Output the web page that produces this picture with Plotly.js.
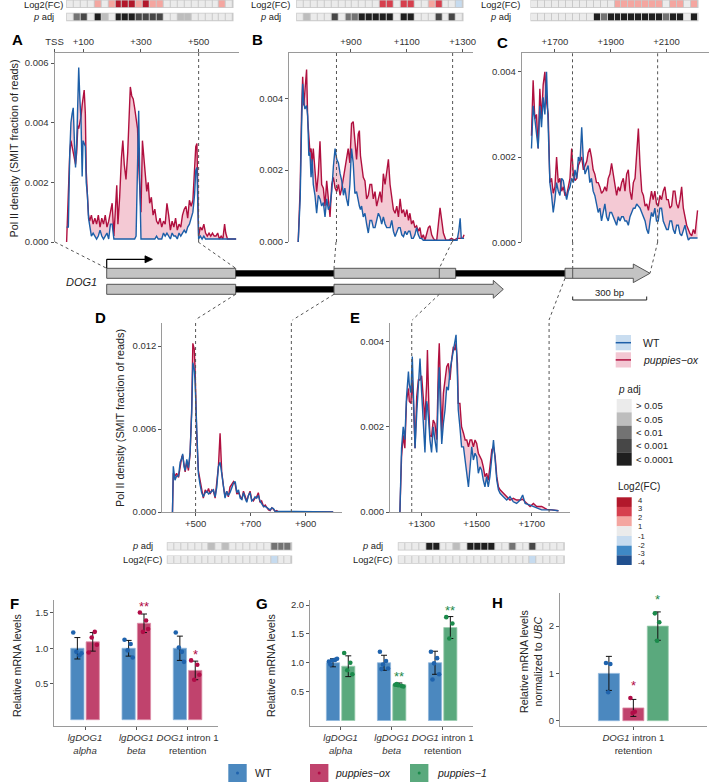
<!DOCTYPE html>
<html><head><meta charset="utf-8">
<script src="https://cdn.plot.ly/plotly-3.0.1.min.js"></script>
<style>html,body{margin:0;padding:0;background:#fff}#chart{width:709px;height:782px}</style>
</head><body><div id="chart"></div>
<script>
// ---------------- DATA ----------------
// Pol II density (SMIT fraction of reads), values in units of 1e-3
const A_BP=[42,48,53,57,61,65,69,73,77,81,84,88,92,96,99,103,107,110,114,118,122,128,134,140,146,152,158,164,170,176,182,188,194,200,206,212,216,220,226,232,237,242,248,254,258,263,268,273,278,283,288,292,296,300,305,310,315,320,325,330,336,342,348,354,360,366,372,378,384,390,396,402,408,414,420,426,432,438,444,450,456,462,468,474,480,486,490,494,497,500,506,512,518,524,530,536,542,548,554,560,566,572,578,584,590,594,600,610,620,630];
const A_OX=[0,1.8,3.0,3.4,3.2,3.1,2.9,2.6,3.0,3.9,3.8,4.0,4.2,4.6,4.9,5.1,4.3,2.4,1.6,0.9,0.7,0.9,0.6,0.8,0.6,0.9,0.5,0.8,0.6,0.9,0.5,0.7,1.0,1.3,0.2,1.5,1.9,0.6,1.5,2.8,3.4,2.6,2.1,3.0,4.3,5.2,4.9,4.8,4.5,4.2,3.8,2.6,1.6,1.0,3.4,2.9,2.3,1.7,2.0,1.3,1.5,0.9,1.1,0.7,0.6,0.8,0.5,0.7,0.6,1.3,0.9,0.4,0.7,0.5,0.8,0.4,0.6,0.5,0.9,1.1,1.2,0.8,1.4,1.2,1.4,2.4,3.2,3.3,2.0,0.2,0.5,0.4,0.6,0.3,0.2,0.3,0.2,0.3,0.2,0.2,0.3,0.1,0.2,0.1,0.6,0.3,0.1,0.1,0.1,0.1];
const A_WT=[0.5,0.5,3.0,4.0,4.3,4.5,3.4,2.5,3.3,4.6,5.85,4.8,4.1,2.2,3.4,3.3,3.2,2.0,1.6,0.8,0.5,0.2,0.3,0.2,0.1,0.2,0.4,0.2,0.1,0.2,0.3,0.1,0.6,0.6,0.1,0.1,0.1,0.1,0.1,0.1,0.1,0.1,0.1,0.1,0.1,0.1,0.1,0.1,0.1,0.2,3.0,4.4,2.0,0.1,0.1,0.1,0.1,0.1,0.1,0.1,0.1,0.1,0.1,0.2,0.1,0.1,0.1,0.3,0.2,0.3,0.2,0.1,0.3,0.2,0.2,0.1,0.3,0.2,0.3,0.4,0.3,0.5,0.6,0.8,1.0,1.6,2.4,2.5,1.0,0.1,0.2,0.1,0.2,0.1,0.1,0.1,0.1,0.1,0.1,0.1,0.1,0.1,0.1,0.1,0.1,0.1,0.1,0.1,0.1,0.1];

const B_BP=[711,718,723,727,731,735,741,745,749,753,757,761,765,771,777,783,789,795,801,807,813,819,825,831,837,843,849,855,861,867,873,878,884,890,896,902,908,914,920,926,930,934,938,944,950,956,962,968,974,980,986,992,998,1004,1010,1016,1022,1028,1034,1040,1046,1052,1058,1064,1070,1076,1082,1088,1094,1100,1106,1111,1117,1123,1129,1135,1141,1147,1153,1159,1165,1171,1177,1183,1189,1195,1201,1207,1213,1219,1225,1231,1240,1250,1260,1270,1280,1286,1291,1295,1300,1305];
const B_OX=[0,1.5,3.6,4.6,3.8,4.2,4.8,3.4,2.9,2.5,2.6,2.2,2.6,2.1,1.4,1.9,2.8,1.6,1.5,1.0,1.7,1.2,0.7,1.6,1.8,1.5,1.4,1.6,1.3,1.5,1.8,2.1,2.4,2.6,2.2,3.3,3.35,2.8,2.3,3.0,3.1,2.4,2.1,1.8,1.7,1.2,1.3,1.6,1.6,1.2,1.4,1.0,1.2,1.4,1.1,1.9,1.6,1.9,2.3,1.6,1.2,0.9,0.8,1.0,0.7,1.2,0.8,0.9,0.7,0.9,0.6,0.8,0.5,0.6,0.4,0.45,0.3,0.4,0.1,0.2,0.05,0.25,0.4,0.45,0.2,0.1,0.05,0.05,0.5,0.95,0.6,0.25,0.05,0.05,0.1,0.05,0.1,0.1,0.1,0.1,0.1,0.2];
const B_WT=[0,1.2,3.2,4.4,3.9,3.7,3.8,3.5,2.4,2.5,1.8,2.3,1.6,1.3,0.8,1.3,1.2,1.0,1.1,0.7,1.2,0.9,1.0,1.4,2.1,2.6,2.3,2.2,1.9,1.7,1.3,1.5,1.2,1.0,1.6,2.6,2.2,1.35,1.4,1.1,1.0,0.9,1.0,0.7,0.8,0.5,0.25,0.6,0.6,0.4,0.4,0.6,0.8,0.7,0.5,0.7,0.5,0.4,0.4,0.4,0.6,0.3,0.15,0.3,0.4,0.4,0.2,0.15,0.3,0.2,0.3,0.3,0.1,0.1,0.2,0.4,0.2,0.1,0.1,0.05,0.05,0.05,0.05,0.05,0.05,0.05,0.05,0.05,0.05,0.05,0.05,0.05,0.05,0.05,0.05,0.05,0.05,0.3,0.66,0.1,0.1,0.1];

const C_BP=[1616,1622,1628,1634,1640,1646,1652,1658,1664,1670,1676,1682,1688,1694,1700,1706,1712,1718,1724,1730,1736,1742,1748,1754,1760,1766,1772,1778,1784,1790,1796,1802,1808,1814,1819,1825,1831,1837,1843,1849,1855,1861,1867,1873,1879,1885,1891,1897,1903,1909,1915,1921,1927,1933,1939,1945,1951,1957,1963,1969,1975,1981,1987,1993,1999,2005,2011,2017,2023,2029,2035,2041,2046,2052,2058,2064,2070,2076,2082,2088,2094,2100,2106,2112,2118,2124,2130,2136,2142,2148,2154,2160,2166,2172,2178,2184,2190,2196,2202,2207,2211];
const C_OX=[2.5,3.8,2.9,3.0,2.2,3.6,2.9,3.7,4.0,3.3,3.0,1.4,1.5,1.15,1.3,2.0,1.4,1.5,1.2,1.3,1.1,1.1,1.3,1.5,2.2,1.6,1.45,1.5,1.8,1.9,2.0,1.7,1.8,1.9,2.1,2.2,2.0,1.7,1.6,1.4,1.4,1.3,1.15,1.2,1.3,1.2,1.5,1.6,1.85,1.6,1.3,1.1,1.3,1.2,1.4,1.5,1.2,1.6,1.7,1.2,1.0,1.4,1.5,2.2,2.67,1.8,1.2,1.1,0.85,0.9,0.75,1.0,1.2,1.0,1.2,0.9,0.85,1.1,1.0,1.2,1.3,1.0,1.0,0.8,0.85,1.2,1.2,0.9,0.8,1.0,1.3,0.8,0.6,0.4,0.3,0.2,0.15,0.3,0.2,0.5,0.75];
const C_WT=[2.2,3.2,2.9,2.6,2.2,3.2,2.7,3.4,3.0,4.0,2.7,1.4,1.1,0.7,1.0,1.4,1.2,1.1,1.5,1.45,1.2,1.0,1.2,1.3,1.5,1.4,1.7,1.5,2.0,1.9,2.7,1.9,1.6,1.7,1.8,1.4,1.5,1.2,1.1,0.9,0.7,0.8,0.5,0.7,0.9,0.6,0.5,0.7,0.7,0.6,0.5,0.4,0.6,0.5,0.6,0.6,0.5,0.5,0.4,0.6,0.7,0.8,0.8,0.9,0.85,0.8,0.7,0.6,0.5,0.3,0.2,0.5,0.7,0.6,0.8,0.5,0.5,0.8,0.8,0.5,0.4,0.3,0.3,0.5,0.5,0.3,0.2,0.4,0.4,0.2,0.15,0.3,0.4,0.2,0.05,0.1,0.1,0.1,0.1,0.1,0.1];

const D_BP=[416,419,425,431,438,444,450,453,458,462,468,474,480,486,490,495,498,504,510,516,522,528,535,541,547,553,559,565,571,577,583,589,595,601,607,613,619,625,632,638,644,650,656,662,668,674,680,686,692,698,704,710,716,722,728,734,740,747,753,759,765,771,777,783,789,795,801,810,830,850,880,920,960,1000];
const D_OX=[0,2.8,2.6,2.8,2.5,3.4,4.0,4.1,3.2,2.9,3.6,3.0,4.2,7.6,12.2,11.8,10.5,5.6,3.0,2.4,1.6,1.0,1.6,1.4,1.7,1.3,1.6,1.5,1.0,2.0,3.3,5.7,2.9,1.9,1.1,1.5,1.1,1.8,2.0,2.2,2.0,1.3,1.4,1.2,0.9,1.5,1.2,0.8,1.2,1.5,0.9,0.8,1.0,1.1,1.4,0.7,0.8,0.4,0.5,0.3,0.15,0.1,0.3,0.2,0.05,0.1,0,0,0,0,0,0,0,0];
const D_WT=[0,3.3,2.3,2.6,2.6,3.6,3.9,4.2,3.3,3.0,3.8,3.2,4.3,7.2,10.8,10.3,9.5,5.7,2.8,2.0,1.4,1.1,1.4,1.5,1.3,1.4,1.5,1.6,1.1,1.8,3.3,3.6,2.8,1.8,1.0,1.5,1.2,1.4,1.8,2.1,2.2,1.4,1.6,1.0,0.9,1.4,1.0,0.7,1.2,1.4,0.8,0.9,1.1,1.0,1.2,0.8,0.6,0.4,0.4,0.3,0.2,0.15,0.3,0.25,0.05,0.05,0,0.05,0,0.02,0.03,0,0.02,0];

const E_BP=[1221,1227,1233,1239,1245,1252,1255,1261,1266,1270,1276,1282,1288,1294,1300,1306,1312,1318,1321,1327,1330,1336,1342,1348,1355,1361,1364,1367,1373,1379,1385,1391,1397,1403,1409,1415,1421,1425,1430,1433,1439,1445,1452,1458,1464,1470,1476,1482,1488,1494,1500,1506,1512,1518,1524,1530,1536,1542,1548,1555,1561,1567,1573,1579,1585,1597,1609,1621,1633,1645,1658,1667,1676,1694,1706,1718,1736,1755,1773,1797];
const E_OX=[0,1.3,1.8,1.5,2.6,2.9,2.6,2.55,3.1,2.6,1.5,2.7,3.1,3.1,3.2,2.6,2.16,3.0,3.8,2.3,1.8,1.77,2.16,2.08,1.7,3.5,3.96,3.26,1.85,2.79,3.18,3.41,3.49,3.1,3.57,3.88,3.8,3.96,3.49,2.55,2.55,2.0,1.85,1.69,1.69,1.53,1.69,1.69,1.53,1.69,1.61,1.38,1.3,1.22,1.06,0.83,0.91,0.75,1.06,1.46,1.53,1.3,0.83,0.59,0.52,0.44,0.36,0.28,0.32,0.28,0.28,0.3,0.24,0.13,0.2,0.13,0.13,0.06,0.05,0.03];
const E_WT=[0,1.5,2.0,1.7,2.7,3.3,3.0,2.8,3.65,2.9,1.5,2.3,2.9,3.6,2.8,2.2,1.4,2.6,2.5,2.0,1.7,1.4,2.0,1.7,1.4,3.0,3.4,2.63,1.6,2.08,2.4,2.94,2.86,3.33,3.57,3.73,4.04,4.16,3.18,2.4,2.0,1.53,1.53,1.22,0.91,0.59,1.06,1.53,1.22,1.38,1.3,0.91,1.06,0.98,0.75,0.59,0.83,0.59,0.83,1.3,1.69,1.22,0.75,0.52,0.44,0.36,0.28,0.36,0.24,0.2,0.28,0.4,0.2,0.16,0.13,0.09,0.05,0.05,0.05,0.03];

// binned statistics strips
const A_LOG2FC=[0.2,0.1,0.3,0.2,1.5,0.4,1.6,3.4,3.5,3.3,1.6,3.4,1.5,1.4,0.5,0.3,0.2,0.4,0.1,0.3,0.2,0.5,1.3,0.6];
const A_PADJ=[0.4,0.006,0.0008,0.3,0.00005,0.03,0.2,0.00003,0.00002,0.00004,0.0006,0.0005,0.0007,0.0009,0.2,0.3,0.04,0.03,0.5,0.6,0.4,0.3,0.1,0.5];
const B_LOG2FC=[0.1,0.3,0.2,0.1,0.4,0.5,0.3,0.6,0.7,0.8,0.6,0.7,2.5,2.6,0.9,2.4,2.5,0.6,0.5,1.4,2.3,0.3,0.2,-1.2];
const B_PADJ=[0.3,0.03,0.4,0.5,0.2,0.0008,0.3,0.004,0.005,0.00005,0.00003,0.00004,0.00002,0.00005,0.2,0.00003,0.00004,0.3,0.2,0.1,0.0006,0.2,0.0007,0.4];
const C_LOG2FC=[0.1,0.2,0.1,0.3,0.2,0.1,0.2,0.3,0.4,0.6,0.5,0.7,1.4,1.5,1.3,1.6,1.4,1.5,1.3,0.8,1.3,1.4,0.7,1.5];
const C_PADJ=[0.5,0.4,0.6,0.3,0.5,0.4,0.3,0.2,0.3,0.00005,0.004,0.00003,0.00004,0.00002,0.00005,0.00003,0.00004,0.00002,0.00005,0.005,0.00004,0.00003,0.3,0.00005];
const D_PADJ=[0.5,0.4,0.6,0.3,0.5,0.4,0.03,0.3,0.04,0.5,0.6,0.4,0.3,0.5,0.4,0.006,0.005,0.007];
const D_LOG2FC=[0.1,0.2,0.1,0.0,-0.1,0.2,0.3,0.1,0.2,0.0,-0.1,0.1,-0.2,0.0,-0.3,-1.2,-0.6,-0.5];
const E_PADJ=[0.4,0.5,0.3,0.6,0.00004,0.00005,0.3,0.4,0.03,0.3,0.00003,0.00002,0.00004,0.00005,0.3,0.4,0.005,0.4,0.5,0.0006,0.3,0.4,0.5,0.6];
const E_LOG2FC=[0.1,0.2,0.0,0.1,0.5,0.6,0.2,0.1,0.4,0.2,0.5,0.6,0.5,0.4,0.3,0.2,-0.3,-0.1,0.0,-1.1,0.1,0.0,0.1,0.0];

// qPCR (F, G, H)
const FG_TICKTEXT=['<i>lgDOG1</i><br><i>alpha</i>','<i>lgDOG1</i><br><i>beta</i>','<i>DOG1</i> intron 1<br>retention'];
const H_TICKTEXT=['<i>DOG1</i> intron 1<br>retention'];
const F_WT_MEAN=[1.0,1.0,1.0], F_WT_SD=[0.15,0.11,0.17];
const F_OX_MEAN=[1.09,1.35,0.69], F_OX_SD=[0.13,0.13,0.13];
const F_WT_PTS=[[1.22,0.90,0.95,0.93],[1.12,1.06,0.97,0.87],[1.22,0.95,1.01,0.81]];
const F_OX_PTS=[[0.94,1.23,1.15,1.05],[1.50,1.39,1.23,1.27],[0.83,0.77,0.56,0.63]];
const F_OX_SIG=['','**','*'];
const G_WT_MEAN=[1.0,1.0,1.0], G_WT_SD=[0.07,0.13,0.2];
const G_P1_MEAN=[0.94,0.62,1.61], G_P1_SD=[0.18,0.03,0.19];
const G_WT_PTS=[[1.02,1.05,1.04,1.07,0.97],[1.19,1.03,0.97,0.90,0.89],[1.19,1.08,0.99,0.80,0.71]];
const G_P1_PTS=[[1.17,1.0,0.87,0.80],[0.62,0.60,0.61,0.59,0.63],[1.79,1.68,1.42]];
const G_P1_SIG=['','**','**'];
const H_WT_MEAN=[1.0], H_WT_SD=[0.36], H_WT_PTS=[[1.22,1.20,0.60]];
const H_OX_MEAN=[0.27], H_OX_SD=[0.18], H_OX_PTS=[[0.48,0.19,0.16]], H_OX_SIG=['*'];
const H_P1_MEAN=[2.0], H_P1_SD=[0.3], H_P1_PTS=[[2.27,2.08,1.69]], H_P1_SIG=['*'];

// ---------------- STYLE / LAYOUT ----------------
const W=709,H=782;
const FONT='Liberation Sans, Arial, Helvetica, sans-serif';
const COL={wtLine:'#1d5fa8',oxLine:'#b0103f',fill:'#f4c9d4',
  wtBar:'#4b88bf',oxBar:'#c0436d',p1Bar:'#5aa97d',
  wtPt:'#1f63ad',oxPt:'#b10c47',p1Pt:'#1b8a4b'};
const AXC='#9a9a9a', TKC='#555', TXT='#333';
const FC_SCALE=[[0,'#21508f'],[0.125,'#21508f'],[0.125,'#3f88c5'],[0.25,'#3f88c5'],[0.25,'#c6dbef'],[0.375,'#c6dbef'],[0.375,'#ebebeb'],[0.625,'#ebebeb'],[0.625,'#f4a6a0'],[0.75,'#f4a6a0'],[0.75,'#d6404e'],[0.875,'#d6404e'],[0.875,'#b2182b'],[1,'#b2182b']];
const P_COLORS=['#ebebeb','#bdbdbd','#737373','#474747','#1f1f1f'];
const P_SCALE=[[0,P_COLORS[0]],[0.2602,P_COLORS[0]],[0.2602,P_COLORS[1]],[0.4,P_COLORS[1]],[0.4,P_COLORS[2]],[0.6,P_COLORS[2]],[0.6,P_COLORS[3]],[0.8,P_COLORS[3]],[0.8,P_COLORS[4]],[1,P_COLORS[4]]];
const JIT=[-0.08,0.04,-0.02,0.08,-0.05];

const domX=(a,b)=>[a/W,b/W];
const domY=(top,bot)=>[1-bot/H,1-top/H];
const sfx=n=>n===1?'':String(n);
const traces=[], shapes=[], ann=[];
const layout={width:W,height:H,margin:{l:0,r:0,t:0,b:0},paper_bgcolor:'#ffffff',plot_bgcolor:'rgba(0,0,0,0)',
  showlegend:false,font:{family:FONT,size:10,color:TXT},barmode:'group',bargap:0.4,bargroupgap:0.14,
  shapes:shapes,annotations:ann};

function text(t,x,y,o){ann.push(Object.assign({text:t,x:x/W,y:1-y/H,xref:'paper',yref:'paper',showarrow:false,xanchor:'center',yanchor:'middle',font:{family:FONT,size:10,color:'#222'}},o||{}));}
function lineP(x0,y0,x1,y1,st){shapes.push({type:'line',xref:'paper',yref:'paper',x0:x0/W,y0:1-y0/H,x1:x1/W,y1:1-y1/H,line:st});}
function rectP(x0,y0,x1,y1,fill,line,layer){shapes.push({type:'rect',xref:'paper',yref:'paper',x0:x0/W,y0:1-y0/H,x1:x1/W,y1:1-y1/H,fillcolor:fill,line:line||{width:0},layer:layer||'above'});}
function pathP(pts,fill,line){const d=pts.map((p,i)=>(i?'L':'M')+(p[0]/W).toFixed(5)+','+(1-p[1]/H).toFixed(5)).join(' ')+' Z';shapes.push({type:'path',xref:'paper',yref:'paper',path:d,fillcolor:fill,line:line||{width:0}});}
const DASH={color:'#555',width:1,dash:'3px,3px'};

// ---- density panels ----
const k=v=>v*1e-3;
const DENS=[
 {n:1,bp:A_BP,wt:A_WT,ox:A_OX,xpx:[54.5,239],ypx:[53,242],xr:[0,640],yr:[0,0.00634],side:'top',xt:[0,100,300,500],xtt:['TSS','+100','+300','+500'],yt:[0,0.002,0.004,0.006],dash:[500],dashTop:53},
 {n:2,bp:B_BP,wt:B_WT,ox:B_OX,xpx:[289,473],ypx:[53,242],xr:[678,1337],yr:[0,0.00526],side:'top',xt:[900,1100,1300],xtt:['+900','+1100','+1300'],yt:[0,0.002,0.004],dash:[848,1264],dashTop:53},
 {n:3,bp:C_BP,wt:C_WT,ox:C_OX,xpx:[521.7,709],ypx:[53,242.3],xr:[1581,2252],yr:[0,0.00444],side:'top',xt:[1700,1900,2100],xtt:['+1700','+1900','+2100'],yt:[0,0.002,0.004],dash:[1763,2068],dashTop:53},
 {n:4,bp:D_BP,wt:D_WT,ox:D_OX,xpx:[162.3,341.7],ypx:[323,512],xr:[379,1031],yr:[0,0.01367],side:'bottom',xt:[500,700,900],xtt:['+500','+700','+900'],yt:[0,0.006,0.012],dash:[500,848],dashTop:320},
 {n:5,bp:E_BP,wt:E_WT,ox:E_OX,xpx:[390,570],ypx:[323.3,512],xr:[1185,1839],yr:[0,0.00443],side:'bottom',xt:[1300,1500,1700],xtt:['+1300','+1500','+1700'],yt:[0,0.002,0.004],dash:[1264,1763],dashTop:320}
];
DENS.forEach(p=>{
  const s=sfx(p.n);
  traces.push({type:'scatter',mode:'lines',x:p.bp,y:p.ox.map(k),xaxis:'x'+s,yaxis:'y'+s,line:{color:COL.oxLine,width:1.4},hoverinfo:'skip',showlegend:false,name:'puppies-ox'});
  traces.push({type:'scatter',mode:'lines',x:p.bp,y:p.wt.map(k),xaxis:'x'+s,yaxis:'y'+s,fill:'tonexty',fillcolor:COL.fill,line:{color:COL.wtLine,width:1.4},hoverinfo:'skip',showlegend:false,name:'WT'});
  layout['xaxis'+s]={domain:domX(p.xpx[0],p.xpx[1]),range:p.xr,anchor:'y'+s,side:p.side,showline:true,linecolor:AXC,linewidth:1,
    ticks:'outside',ticklen:3,tickcolor:TKC,tickvals:p.xt,ticktext:p.xtt,tickangle:0,tickfont:{family:FONT,size:9.5,color:TXT},showgrid:false,zeroline:false,fixedrange:true};
  layout['yaxis'+s]={domain:domY(p.ypx[0],p.ypx[1]),range:p.yr,anchor:'x'+s,showline:true,linecolor:AXC,linewidth:1,
    ticks:'outside',ticklen:3,tickcolor:TKC,tickvals:p.yt,tickformat:'.3f',tickfont:{family:FONT,size:9.5,color:TXT},showgrid:false,zeroline:false,fixedrange:true};
  p.dash.forEach(v=>shapes.push({type:'line',xref:'x'+s,yref:'paper',x0:v,x1:v,y0:1-p.ypx[1]/H,y1:1-p.dashTop/H,line:DASH}));
});
text('Pol II density (SMIT fraction of reads)',13.5,149,{textangle:-90,font:{family:FONT,size:10.8,color:'#222'}});
text('Pol II density (SMIT fraction of reads)',120,418,{textangle:-90,font:{family:FONT,size:10.8,color:'#222'}});

// ---- strips ----
const STRIPS=[
 {vals:A_LOG2FC,kind:'fc',x:[66.7,233],y:[0.3,7.6],lx:43},
 {vals:A_PADJ,kind:'p',x:[66.7,233],y:[13.3,20.7],lx:43},
 {vals:B_LOG2FC,kind:'fc',x:[296.7,463],y:[0.3,7.6],lx:270},
 {vals:B_PADJ,kind:'p',x:[296.7,463],y:[13.3,20.7],lx:270},
 {vals:C_LOG2FC,kind:'fc',x:[531,698],y:[0.3,7.6],lx:500},
 {vals:C_PADJ,kind:'p',x:[531,698],y:[13.3,20.7],lx:500},
 {vals:D_PADJ,kind:'p',x:[167.3,291.7],y:[542.7,550],lx:142},
 {vals:D_LOG2FC,kind:'fc',x:[167.3,291.7],y:[556,563.3],lx:142},
 {vals:E_PADJ,kind:'p',x:[398.3,564.3],y:[542.7,550],lx:372},
 {vals:E_LOG2FC,kind:'fc',x:[398.3,564.3],y:[556,563.3],lx:372}
];
STRIPS.forEach((st,i)=>{
  const n=9+i, s=sfx(n);
  const isP=st.kind==='p';
  const z=isP?st.vals.map(p=>Math.min(5,-Math.log10(p))):st.vals;
  traces.push({type:'heatmap',z:[z],x:st.vals.map((_,j)=>j),y:[0],xaxis:'x'+s,yaxis:'y'+s,xgap:1,
    colorscale:isP?P_SCALE:FC_SCALE,zmin:isP?0:-4,zmax:isP?5:4,showscale:false,hoverinfo:'skip'});
  layout['xaxis'+s]={domain:domX(st.x[0],st.x[1]),range:[-0.5,st.vals.length-0.5],anchor:'y'+s,visible:false,fixedrange:true};
  layout['yaxis'+s]={domain:domY(st.y[0],st.y[1]),range:[-0.5,0.5],anchor:'x'+s,visible:false,fixedrange:true};
  rectP(st.x[0]-0.5,st.y[0]-0.5,st.x[1]+0.5,st.y[1]+0.5,'#c9c9c9',{width:0},'below');
  const ly=Math.max(5.2,(st.y[0]+st.y[1])/2);
  text(isP?'<i>p</i> adj':'Log2(FC)',st.lx,ly,{font:{family:FONT,size:9.3,color:'#222'}});
});

// ---- bar panels ----
function barT(n,x,m,sd,color,line){const s=sfx(n);return {type:'bar',x:x,y:m,xaxis:'x'+s,yaxis:'y'+s,marker:{color:color,line:{color:line,width:0.8}},
  error_y:{type:'data',array:sd,visible:true,color:'#111',thickness:1,width:3},hoverinfo:'skip',showlegend:false};}
function ptsT(n,pts,off,color,js){const s=sfx(n);const x=[],y=[];pts.forEach((g,i)=>g.forEach((v,j)=>{x.push(i+off+JIT[j%JIT.length]*js);y.push(v);}));
  return {type:'scatter',mode:'markers',x:x,y:y,xaxis:'x'+s,yaxis:'y'+s,marker:{color:color,size:4.6},hoverinfo:'skip',showlegend:false};}
function sig(n,labels,means,sds,pts,off,color,shift){const s=sfx(n);labels.forEach((t,i)=>{if(!t)return;
  const top=Math.max(means[i]+sds[i],Math.max.apply(null,pts[i]));
  ann.push({text:t,xref:'x'+s,yref:'y'+s,x:i+off,y:top,showarrow:false,xanchor:'center',yanchor:'middle',yshift:shift,font:{family:FONT,size:13,color:color}});});}
function barAxes(n,xpx,ypx,xr,yr,tv,tt,yt,fmt){const s=sfx(n);
  layout['xaxis'+s]={domain:domX(xpx[0],xpx[1]),range:xr,anchor:'y'+s,showline:true,linecolor:AXC,linewidth:1,ticks:'outside',ticklen:3,tickcolor:TKC,
    tickvals:tv,ticktext:tt,tickangle:0,tickfont:{family:FONT,size:9.6,color:TXT},showgrid:false,zeroline:false,fixedrange:true};
  layout['yaxis'+s]={domain:domY(ypx[0],ypx[1]),range:yr,anchor:'x'+s,showline:true,linecolor:AXC,linewidth:1,ticks:'outside',ticklen:3,tickcolor:TKC,
    tickvals:yt,tickformat:fmt,tickfont:{family:FONT,size:9.5,color:TXT},showgrid:false,zeroline:false,fixedrange:true};}
const IDX3=[0,1,2];
// F
traces.push(barT(6,IDX3,F_WT_MEAN,F_WT_SD,COL.wtBar,'#8fb6dc'));
traces.push(barT(6,IDX3,F_OX_MEAN,F_OX_SD,COL.oxBar,'#dd8ea8'));
traces.push(ptsT(6,F_WT_PTS,-0.15,COL.wtPt,1));
traces.push(ptsT(6,F_OX_PTS,0.15,COL.oxPt,1));
sig(6,F_OX_SIG,F_OX_MEAN,F_OX_SD,F_OX_PTS,0.15,COL.oxPt,6);
barAxes(6,[54.3,218.3],[600,725.7],[-0.6,2.6],[-0.084,1.676],IDX3,FG_TICKTEXT,[0.5,1,1.5],'.1f');
// G
traces.push(barT(7,IDX3,G_WT_MEAN,G_WT_SD,COL.wtBar,'#8fb6dc'));
traces.push(barT(7,IDX3,G_P1_MEAN,G_P1_SD,COL.p1Bar,'#9ccdb0'));
traces.push(ptsT(7,G_WT_PTS,-0.15,COL.wtPt,1));
traces.push(ptsT(7,G_P1_PTS,0.15,COL.p1Pt,1));
sig(7,G_P1_SIG,G_P1_MEAN,G_P1_SD,G_P1_PTS,0.15,COL.p1Pt,6);
barAxes(7,[310,473.3],[600,725.7],[-0.6,2.6],[-0.09,2.087],IDX3,FG_TICKTEXT,[0.5,1,1.5,2],'.1f');
// H
traces.push(barT(8,[0],H_WT_MEAN,H_WT_SD,COL.wtBar,'#8fb6dc'));
traces.push(barT(8,[0],H_OX_MEAN,H_OX_SD,COL.oxBar,'#dd8ea8'));
traces.push(barT(8,[0],H_P1_MEAN,H_P1_SD,COL.p1Bar,'#9ccdb0'));
traces.push(ptsT(8,H_WT_PTS,-0.2,COL.wtPt,0.3));
traces.push(ptsT(8,H_OX_PTS,0,COL.oxPt,0.3));
traces.push(ptsT(8,H_P1_PTS,0.2,COL.p1Pt,0.3));
sig(8,H_OX_SIG,H_OX_MEAN,H_OX_SD,H_OX_PTS,0,COL.oxPt,12);
sig(8,H_P1_SIG,H_P1_MEAN,H_P1_SD,H_P1_PTS,0.2,COL.p1Pt,12);
barAxes(8,[560,706.7],[593,725.7],[-0.6,0.6],[-0.106,2.7],[0],H_TICKTEXT,[0,1,2],'d');
text('Relative mRNA levels',17,666,{textangle:-90,font:{family:FONT,size:10.7,color:'#222'}});
text('Relative mRNA levels',271,666,{textangle:-90,font:{family:FONT,size:10.7,color:'#222'}});
text('Relative mRNA levels<br>normalized to <i>UBC</i>',531,662,{textangle:-90,font:{family:FONT,size:10.7,color:'#222'}});

// ---- gene model (schematic) ----
const EXON='#c3c3c3', EXL={color:'#555',width:1};
rectP(106.7,268.3,235.7,278.3,EXON,EXL);
rectP(235.7,270.2,334,276.4,'#000');
rectP(334,268.3,455.7,278.3,EXON,EXL);
lineP(439.3,268.3,439.3,278.3,{color:'#555',width:1});
rectP(455.7,270.2,565,276.4,'#000');
pathP([[565,268.3],[633.3,268.3],[633.3,264],[650,273.3],[633.3,282.6],[633.3,278.3],[565,278.3]],EXON,EXL);
lineP(572.7,268.3,572.7,278.3,{color:'#555',width:1});
rectP(106.7,284.3,235.7,294.3,EXON,EXL);
rectP(235.7,286.2,334,292.4,'#000');
pathP([[334,284.3],[493.3,284.3],[493.3,280.4],[503.3,289.3],[493.3,298.2],[493.3,294.3],[334,294.3]],EXON,EXL);
lineP(106.7,268.3,106.7,259.3,{color:'#000',width:1.2});
lineP(106.7,259.3,146,259.3,{color:'#000',width:1.2});
pathP([[145,255.8],[152.5,259.3],[145,262.8]],'#000',{color:'#000',width:0.8});
text('<i>DOG1</i>',81.7,281.7,{font:{family:FONT,size:11,color:'#222'}});
lineP(572.7,300,646.7,300,{color:'#222',width:1});
lineP(572.7,296.5,572.7,300,{color:'#222',width:1});
lineP(646.7,296.5,646.7,300,{color:'#222',width:1});
text('300 bp',609.7,292.5,{font:{family:FONT,size:9.5,color:'#222'}});
[[55,242,106.7,268.3],[198.2,242,235.7,268.3],[336,242,334,268.3],[452,242,439.3,268.3],[572.7,242,572.7,268.3],[657.7,242,650,273.3],
 [235.7,294.3,195,320],[334,294.3,292.5,320],[439.3,294.3,412.3,320],[565,278.3,549,320]].forEach(c=>lineP(c[0],c[1],c[2],c[3],DASH));

// ---- right legend ----
rectP(615.7,335,631,350.3,'#c9ddf0');
lineP(615.7,342.7,631,342.7,{color:COL.wtLine,width:1.5});
rectP(615.7,352.3,631,367.5,'#f3c7d3');
lineP(615.7,359.9,631,359.9,{color:COL.oxLine,width:1.5});
text('WT',641,342.7,{xanchor:'left',font:{family:FONT,size:10.5,color:'#222'}});
text('<i>puppies\u2212ox</i>',641,360,{xanchor:'left',font:{family:FONT,size:10.5,color:'#222'}});
text('<i>p</i> adj',616,389,{xanchor:'left',font:{family:FONT,size:10,color:'#222'}});
const P_LEG=['> 0.05','< 0.05','< 0.01','< 0.001','< 0.0001'];
P_LEG.forEach((t,i)=>{const y0=399+i*13.33;rectP(616.7,y0,631.7,y0+13.33,P_COLORS[i]);text(t,634,y0+6.8,{xanchor:'left',font:{family:FONT,size:9.5,color:'#222'}});});
text('Log2(FC)',616,486,{xanchor:'left',font:{family:FONT,size:10,color:'#222'}});
const FC_LEG_COL=['#b2182b','#d6404e','#f4a6a0','#ebebeb','#c6dbef','#3f88c5','#21508f'];
FC_LEG_COL.forEach((c,i)=>{const y0=497.3+i*9.67;rectP(616.7,y0,631.7,y0+9.67,c);});
const FC_LEG_LAB=['4','3','2','1','-1','-2','-3','-4'];
FC_LEG_LAB.forEach((t,i)=>text(t,635.5,[500.5,508.7,517.2,526,536.5,545,553.5,562][i],{xanchor:'left',font:{family:FONT,size:7.6,color:'#222'}}));

// ---- bottom legend ----
[[228.3,COL.wtBar,COL.wtPt,'WT',253],[310,COL.oxBar,COL.oxPt,'<i>puppies\u2212ox</i>',333.3],[410,COL.p1Bar,COL.p1Pt,'<i>puppies\u22121</i>',435]].forEach(l=>{
  rectP(l[0],764,l[0]+18.4,782,l[1]);
  shapes.push({type:'circle',xref:'paper',yref:'paper',x0:(l[0]+9.2-1.5)/W,x1:(l[0]+9.2+1.5)/W,y0:1-(773+1.5)/H,y1:1-(773-1.5)/H,fillcolor:l[2],line:{width:0}});
  text(l[3],l[4],773,{xanchor:'left',font:{family:FONT,size:10.5,color:'#222'}});
});

// ---- panel letters ----
[['A',17,40],['B',257,40],['C',502,42],['D',100,317],['E',355,317],['F',15,603],['G',262,603],['H',497,602]].forEach(l=>
  text('<b>'+l[0]+'</b>',l[1],l[2],{font:{family:FONT,size:15,color:'#000'}}));

Plotly.newPlot('chart',traces,layout,{staticPlot:true,displayModeBar:false});
</script></body></html>
